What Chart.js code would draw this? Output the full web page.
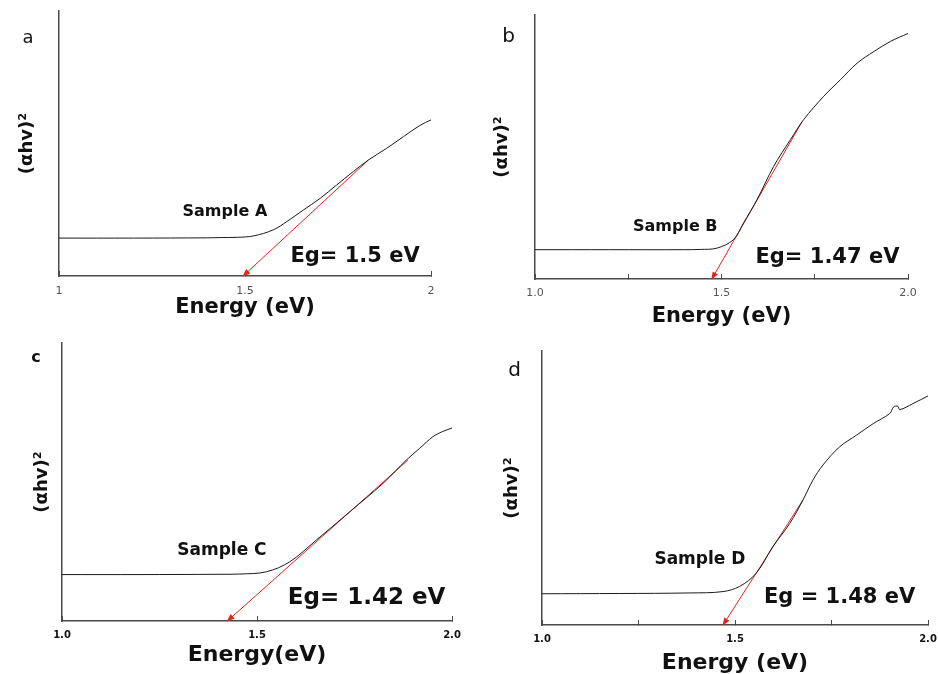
<!DOCTYPE html>
<html>
<head>
<meta charset="utf-8">
<script src="https://cdn.jsdelivr.net/npm/chart.js@4.4.0/dist/chart.umd.min.js"></script>
<style>
    body { margin: 0; background: #fff; width: 938px; height: 674px; position: relative; overflow: hidden; }
    canvas { position: absolute; }
</style>
</head>
<body>
<canvas id="pa" width="469" height="330" style="left:0;top:0"></canvas>
<canvas id="pb" width="469" height="330" style="left:469px;top:0"></canvas>
<canvas id="pc" width="469" height="344" style="left:0;top:330px"></canvas>
<canvas id="pd" width="469" height="344" style="left:469px;top:330px"></canvas>
<script>
// Sample A
const energyA = [1.0, 1.2, 1.4, 1.433, 1.48, 1.522, 1.576, 1.612, 1.657, 1.702, 1.746, 1.791, 1.832, 1.881, 1.926, 1.970, 2.0];
const absA    = [0.143, 0.143, 0.144, 0.145, 0.146, 0.151, 0.174, 0.205, 0.249, 0.293, 0.343, 0.394, 0.438, 0.482, 0.526, 0.568, 0.589];
const fitXA = [1.495, 1.832];
const fitYA = [0, 0.438];

// Sample B
const energyB = [1.0, 1.2, 1.4, 1.443, 1.488, 1.532, 1.559, 1.595, 1.640, 1.685, 1.720, 1.774, 1.819, 1.864, 1.909, 1.953, 2.0];
const absB    = [0.111, 0.111, 0.111, 0.112, 0.117, 0.149, 0.212, 0.30, 0.427, 0.528, 0.603, 0.692, 0.755, 0.818, 0.862, 0.9, 0.93];
const fitXB = [1.474, 1.716];
const fitYB = [0, 0.596];

// Sample C
const energyC = [1.0, 1.2, 1.4, 1.456, 1.524, 1.584, 1.652, 1.738, 1.823, 1.883, 1.917, 1.951, 1.975, 2.0];
const absC    = [0.167, 0.167, 0.168, 0.169, 0.177, 0.213, 0.291, 0.393, 0.495, 0.579, 0.621, 0.663, 0.681, 0.694];
const fitXC = [1.424, 1.887];
const fitYC = [0, 0.579];

// Sample D
const energyD = [1.0, 1.2, 1.383, 1.469, 1.512, 1.555, 1.598, 1.642, 1.676, 1.702, 1.728, 1.771, 1.815, 1.858, 1.901, 1.911, 1.922, 1.927, 1.961, 2.0];
const absD    = [0.114, 0.115, 0.117, 0.122, 0.141, 0.189, 0.286, 0.371, 0.456, 0.529, 0.584, 0.65, 0.693, 0.735, 0.772, 0.796, 0.798, 0.786, 0.808, 0.836];
const fitXD = [1.469, 1.676];
const fitYD = [0, 0.456];

// x ticks
const ticksA = [1, 1.5, 2];
const tickLabelsA = ['1', '1.5', '2'];
const ticksB = [1.0, 1.25, 1.5, 1.75, 2.0];
const tickLabelsB = ['1.0', '', '1.5', '', '2.0'];
const ticksC = [1.0, 1.5, 2.0];
const tickLabelsC = ['1.0', '1.5', '2.0'];
const ticksD = [1.0, 1.25, 1.5, 1.75, 2.0];
const tickLabelsD = ['1.0', '', '1.5', '', '2.0'];

const RED = '#e3261d';
const AXIS = '#4a4a4a';
const FONT = "'DejaVu Sans', sans-serif";

const toPts = (xs, ys) => xs.map((x, i) => ({ x: x, y: ys[i] }));

const panelText = {
    id: 'panelText',
    afterDatasetsDraw(chart, args, opts) {
        const ctx = chart.ctx;
        const x = chart.scales.x, y = chart.scales.y;
        // arrow head at the low end of the fit line
        const fit = chart.getDatasetMeta(1).data;
        const p0 = fit[0], p1 = fit[1];
        const ang = Math.atan2(p0.y - p1.y, p0.x - p1.x);
        ctx.save();
        ctx.fillStyle = RED;
        ctx.translate(p0.x, p0.y);
        ctx.rotate(ang);
        ctx.beginPath();
        ctx.moveTo(1, 0);
        ctx.lineTo(-7, -3);
        ctx.lineTo(-7, 3);
        ctx.closePath();
        ctx.fill();
        ctx.restore();

        ctx.save();
        ctx.fillStyle = '#111';
        ctx.textAlign = 'center';
        ctx.textBaseline = 'middle';
        opts.labels.forEach(l => {
            ctx.font = l.font;
            ctx.fillText(l.text, x.getPixelForValue(l.x), y.getPixelForValue(l.y));
        });
        ctx.restore();
    }
};

function makePanel(id, p) {
    return new Chart(document.getElementById(id), {
        type: 'scatter',
        data: {
            datasets: [{
                data: toPts(p.ex, p.ey),
                showLine: true,
                borderColor: '#1a1a1a',
                borderWidth: 1,
                pointRadius: 0,
                tension: 0.35
            }, {
                data: toPts(p.fx, p.fy),
                showLine: true,
                borderColor: RED,
                borderWidth: 1,
                pointRadius: 0
            }]
        },
        options: {
            responsive: false,
            animation: false,
            devicePixelRatio: 1,
            layout: { padding: { left: 0, top: p.padTop, right: p.padRight, bottom: 0 } },
            plugins: {
                legend: { display: false },
                tooltip: { enabled: false },
                panelText: { labels: p.labels }
            },
            scales: {
                x: {
                    type: 'linear',
                    min: 1, max: 2,
                    afterBuildTicks: s => { s.ticks = p.ticks.map(v => ({ value: v })); },
                    afterFit: s => { s.height = p.xH; s.paddingLeft = 0; s.paddingRight = 0; },
                    ticks: {
                        autoSkip: false,
                        maxRotation: 0,
                        padding: p.tickPad,
                        color: p.tickColor,
                        font: { family: FONT, size: p.tickSize, weight: p.tickWeight },
                        callback: v => p.tickLabels[p.ticks.indexOf(v)] ?? ''
                    },
                    grid: { drawOnChartArea: false, tickLength: -5, tickColor: AXIS, tickWidth: 1 },
                    border: { color: AXIS, width: 1.5 },
                    title: {
                        display: true,
                        text: p.xTitle,
                        color: '#111',
                        font: { family: FONT, size: p.xTitleSize, weight: 'bold', lineHeight: 1 },
                        padding: { top: 0, bottom: p.xTitlePad }
                    }
                },
                y: {
                    min: 0, max: 1,
                    afterFit: s => { s.width = p.yW; },
                    ticks: { display: false },
                    grid: { display: false },
                    border: { display: true, color: AXIS, width: 1.5 },
                    title: {
                        display: true,
                        text: '(\u03b1hv)\u00b2',
                        color: '#111',
                        font: { family: FONT, size: 18, weight: 'bold', lineHeight: 1 },
                        padding: { top: p.yTitlePad, bottom: 0 }
                    }
                }
            }
        },
        plugins: [panelText]
    });
}

makePanel('pa', {
    ex: energyA, ey: absA, fx: fitXA, fy: fitYA,
    ticks: ticksA, tickLabels: tickLabelsA,
    padTop: 11, padRight: 38, xH: 54, yW: 59,
    tickPad: 14, tickColor: '#555', tickSize: 11, tickWeight: 'normal',
    xTitle: 'Energy (eV)', xTitleSize: 21, xTitlePad: 12, yTitlePad: 18,
    labels: [
        { text: 'a', x: 0.917, y: 0.898, font: '18px ' + FONT },
        { text: 'Sample A', x: 1.446, y: 0.242, font: 'bold 16px ' + FONT },
        { text: 'Eg= 1.5 eV', x: 1.796, y: 0.075, font: 'bold 21px ' + FONT }
    ]
});

makePanel('pb', {
    ex: energyB, ey: absB, fx: fitXB, fy: fitYB,
    ticks: ticksB, tickLabels: tickLabelsB,
    padTop: 15, padRight: 30, xH: 51, yW: 66,
    tickPad: 13, tickColor: '#555', tickSize: 11, tickWeight: 'normal',
    xTitle: 'Energy (eV)', xTitleSize: 21, xTitlePad: 2.5, yTitlePad: 24,
    labels: [
        { text: 'b', x: 0.929, y: 0.918, font: '20px ' + FONT },
        { text: 'Sample B', x: 1.376, y: 0.198, font: 'bold 16px ' + FONT },
        { text: 'Eg= 1.47 eV', x: 1.784, y: 0.081, font: 'bold 21px ' + FONT }
    ]
});

makePanel('pc', {
    ex: energyC, ey: absC, fx: fitXC, fy: fitYC,
    ticks: ticksC, tickLabels: tickLabelsC,
    padTop: 13, padRight: 17, xH: 53, yW: 62,
    tickPad: 13, tickColor: '#111', tickSize: 10, tickWeight: 'bold',
    xTitle: 'Energy(eV)', xTitleSize: 22, xTitlePad: 8, yTitlePad: 33,
    labels: [
        { text: 'c', x: 0.933, y: 0.947, font: 'bold 16px ' + FONT },
        { text: 'Sample C', x: 1.41, y: 0.255, font: 'bold 17px ' + FONT },
        { text: 'Eg= 1.42 eV', x: 1.781, y: 0.082, font: 'bold 23px ' + FONT }
    ]
});

makePanel('pd', {
    ex: energyD, ey: absD, fx: fitXD, fy: fitYD,
    ticks: ticksD, tickLabels: tickLabelsD,
    padTop: 21, padRight: 10, xH: 49, yW: 73,
    tickPad: 13, tickColor: '#111', tickSize: 10, tickWeight: 'bold',
    xTitle: 'Energy (eV)', xTitleSize: 22, xTitlePad: 0, yTitlePad: 34,
    labels: [
        { text: 'd', x: 0.929, y: 0.927, font: '20px ' + FONT },
        { text: 'Sample D', x: 1.409, y: 0.238, font: 'bold 17px ' + FONT },
        { text: 'Eg = 1.48 eV', x: 1.771, y: 0.1, font: 'bold 21px ' + FONT }
    ]
});
</script>
</body>
</html>
